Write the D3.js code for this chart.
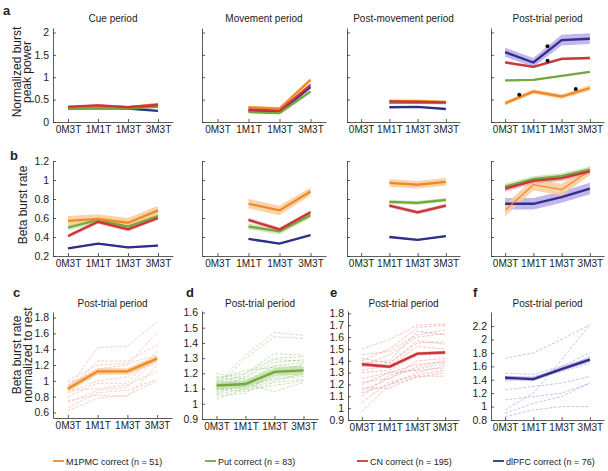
<!DOCTYPE html>
<html>
<head>
<meta charset="utf-8">
<script src="https://cdn.jsdelivr.net/npm/d3@7"></script>
<style>
  body { margin: 0; background: #fff; }
  svg { display: block; font-family: "Liberation Sans", Arial, sans-serif; }
</style>
</head>
<body>
<script>
// conditions and recording areas
const conditions = ["0M3T", "1M1T", "1M3T", "3M3T"];
const areas = ["M1PMC", "Put", "CN", "dlPFC"];
const areaCounts = [51, 83, 195, 76];
const periods = ["Cue period", "Movement period", "Post-movement period", "Post-trial period"];

// panel a: normalized burst peak power [period][area]
const peakPower = [
  [[0.33, 0.36, 0.33, 0.40], [0.30, 0.31, 0.30, 0.34], [0.34, 0.37, 0.33, 0.38], [0.30, 0.31, 0.30, 0.25]],
  [[null, 0.33, 0.30, 0.94], [null, 0.22, 0.20, 0.68], [null, 0.28, 0.25, 0.83], [null, 0.25, 0.22, 0.78]],
  [[null, 0.47, 0.47, 0.45], [null, 0.43, 0.43, 0.42], [null, 0.46, 0.45, 0.44], [null, 0.33, 0.34, 0.29]],
  [[0.42, 0.68, 0.57, 0.76], [0.93, 0.94, 1.03, 1.12], [1.33, 1.23, 1.41, 1.43], [1.56, 1.33, 1.83, 1.86]]
];
const peakPowerErr = [
  [[0.03, 0.03, 0.03, 0.03], [0.02, 0.02, 0.02, 0.02], [0.03, 0.03, 0.03, 0.03], [0.015, 0.015, 0.015, 0.015]],
  [[0, 0.03, 0.03, 0.04], [0, 0.02, 0.02, 0.03], [0, 0.03, 0.03, 0.03], [0, 0.02, 0.02, 0.02]],
  [[0, 0.02, 0.02, 0.02], [0, 0.02, 0.02, 0.02], [0, 0.02, 0.02, 0.02], [0, 0.015, 0.015, 0.015]],
  [[0.05, 0.05, 0.05, 0.06], [0.02, 0.02, 0.02, 0.02], [0.03, 0.03, 0.03, 0.03], [0.10, 0.10, 0.12, 0.12]]
];
// significance markers in the post-trial period
const sigPos = [1.5, 1.5, 0.5, 2.5];
const sigVal = [1.69, 1.37, 0.61, 0.74];

// panel b: beta burst rate [period][area]
const burstRate = [
  [[0.57, 0.59, 0.55, 0.68], [0.50, 0.58, 0.51, 0.62], [0.41, 0.56, 0.48, 0.60], [0.28, 0.33, 0.29, 0.31]],
  [[null, 0.75, 0.68, 0.88], [null, 0.51, 0.46, 0.63], [null, 0.58, 0.48, 0.66], [null, 0.38, 0.33, 0.42]],
  [[null, 0.97, 0.95, 0.98], [null, 0.77, 0.76, 0.79], [null, 0.73, 0.66, 0.73], [null, 0.40, 0.37, 0.41]],
  [[0.68, 0.95, 0.90, 1.10], [0.93, 1.01, 1.04, 1.11], [0.91, 0.99, 1.02, 1.09], [0.75, 0.75, 0.82, 0.91]]
];
const burstRateErr = [
  [[0.05, 0.05, 0.05, 0.05], [0.03, 0.03, 0.03, 0.03], [0.02, 0.02, 0.02, 0.02], [0.01, 0.01, 0.01, 0.01]],
  [[0, 0.05, 0.05, 0.04], [0, 0.03, 0.03, 0.03], [0, 0.02, 0.02, 0.02], [0, 0.01, 0.01, 0.01]],
  [[0, 0.04, 0.04, 0.04], [0, 0.02, 0.02, 0.02], [0, 0.02, 0.02, 0.02], [0, 0.01, 0.01, 0.01]],
  [[0.06, 0.06, 0.06, 0.05], [0.03, 0.03, 0.03, 0.03], [0.03, 0.03, 0.03, 0.03], [0.06, 0.06, 0.06, 0.06]]
];

// panels c-f: post-trial burst rate normalized to rest, mean and single units
const normMean = [
  [0.90, 1.12, 1.12, 1.28], [1.12, 1.13, 1.21, 1.22], [1.37, 1.35, 1.46, 1.47], [1.43, 1.41, 1.56, 1.70]
];
const normErr = [0.04, 0.025, 0.015, 0.03];
const normUnits = [
  [[0.90, 1.42, 1.44, 1.75], [0.88, 1.25, 1.25, 1.45], [0.95, 1.15, 1.20, 1.62], [0.62, 0.78, 0.82, 1.00],
   [0.66, 0.85, 0.88, 1.02], [0.72, 0.88, 0.92, 1.30], [0.80, 0.97, 0.97, 1.38], [0.85, 1.00, 1.05, 1.28],
   [0.98, 1.08, 1.10, 1.22], [0.75, 0.82, 0.80, 1.20], [1.00, 1.20, 1.22, 1.32], [0.88, 0.90, 0.95, 1.12]],
  [[1.13, 1.32, 1.47, 1.45], [1.10, 1.30, 1.44, 1.43], [1.12, 1.20, 1.33, 1.32], [1.15, 1.18, 1.29, 1.28],
   [1.08, 1.15, 1.25, 1.27], [1.06, 1.10, 1.18, 1.20], [1.10, 1.12, 1.16, 1.18], [1.14, 1.09, 1.12, 1.15],
   [1.03, 1.10, 1.15, 1.20], [1.18, 1.14, 1.22, 1.24], [1.20, 1.16, 1.19, 1.22], [1.09, 1.13, 1.08, 1.14],
   [1.16, 1.22, 1.24, 1.23], [1.05, 1.07, 1.21, 1.26], [1.11, 1.12, 1.20, 1.21], [1.13, 1.15, 1.23, 1.25],
   [1.09, 1.11, 1.17, 1.19], [1.15, 1.14, 1.25, 1.24], [1.12, 1.17, 1.27, 1.29], [1.10, 1.08, 1.14, 1.16],
   [1.17, 1.20, 1.30, 1.31], [1.07, 1.12, 1.22, 1.22]],
  [[1.50, 1.58, 1.70, 1.71], [1.40, 1.50, 1.68, 1.70], [1.38, 1.40, 1.65, 1.62], [1.36, 1.45, 1.60, 1.63],
   [1.35, 1.38, 1.55, 1.56], [1.32, 1.36, 1.52, 1.50], [1.17, 1.17, 1.27, 1.27], [0.97, 1.20, 1.30, 1.36],
   [1.10, 1.28, 1.33, 1.38], [1.15, 1.25, 1.35, 1.40], [1.20, 1.30, 1.32, 1.34], [1.05, 1.22, 1.28, 1.32],
   [1.25, 1.30, 1.37, 1.39], [1.42, 1.38, 1.57, 1.54], [1.45, 1.48, 1.62, 1.66], [1.30, 1.32, 1.45, 1.47],
   [1.22, 1.25, 1.40, 1.42], [1.13, 1.20, 1.26, 1.30]],
  [[1.72, 1.80, 2.00, 2.22], [0.95, 1.20, 1.70, 2.22], [1.25, 1.30, 1.35, 1.45], [0.90, 1.05, 1.15, 1.35],
   [1.10, 1.15, 1.20, 1.35], [1.40, 1.40, 1.60, 1.80], [1.38, 1.45, 1.55, 1.75], [1.45, 1.42, 1.52, 1.65],
   [0.85, 0.95, 1.00, 1.00], [1.50, 1.48, 1.60, 1.72]]
];

// tick values
const ticksA = [0, 0.5, 1, 1.5, 2];
const ticksB = [0.2, 0.4, 0.6, 0.8, 1, 1.2];
const ticksNorm = [
  [0.6, 0.8, 1, 1.2, 1.4, 1.6, 1.8],
  [0.9, 1, 1.1, 1.2, 1.3, 1.4, 1.5, 1.6],
  [0.9, 1, 1.1, 1.2, 1.3, 1.4, 1.5, 1.6, 1.7, 1.8],
  [0.8, 1, 1.2, 1.4, 1.6, 1.8, 2, 2.2]
];
const domainNorm = [[0.53, 1.87], [0.9, 1.61], [0.9, 1.82], [0.8, 2.41]];

const colors = ["#f08a24", "#74a83e", "#c8363b", "#2e2f88"];
const bands = ["#f9cb9c", "#c4e0aa", "#f0a6a6", "#b9a8ea"];
const thin = ["#f0a088", "#98c67a", "#ec8a8a", "#8e8ede"];
const drawOrder = [3, 1, 0, 2];

const width = 608, height = 471;
const colX = [[53, 173], [202, 326], [347, 460], [491, 604]];
const colXNorm = [[53, 172], [202, 318], [348, 459], [491, 604]];
const fmt = d3.format("~g");

const svg = d3.select("body").append("svg")
  .attr("width", width)
  .attr("height", height);

function axes(x0, x1, y, ticks, showY) {
  const x = d3.scaleLinear([-0.5, 3.5], [x0, x1]);
  const g = svg.append("g");
  g.append("g")
    .attr("transform", `translate(0,${y.range()[0]})`)
    .call(d3.axisBottom(x).tickValues([0, 1, 2, 3]).tickFormat(i => conditions[i])
      .tickSize(-3).tickSizeOuter(0).tickPadding(4))
    .attr("font-family", null).attr("font-size", 10);
  g.append("g")
    .attr("transform", `translate(${x0},0)`)
    .call(d3.axisLeft(y).tickValues(ticks).tickFormat(showY ? fmt : () => "")
      .tickSize(-3).tickSizeOuter(0).tickPadding(4))
    .attr("font-family", null).attr("font-size", 10.5);
  g.selectAll(".domain, .tick line").attr("stroke", "#333").attr("stroke-width", 0.8);
  g.selectAll("text").attr("fill", "#222");
  return x;
}

function series(x, y, vals, err, color, band, w, dash) {
  const pts = vals.map((v, k) => ({ k, v, e: err ? err[k] : 0 }));
  const area = d3.area().defined(d => d.v != null)
    .x(d => x(d.k)).y0(d => y(d.v - d.e)).y1(d => y(d.v + d.e));
  const line = d3.line().defined(d => d.v != null)
    .x(d => x(d.k)).y(d => y(d.v));
  if (band) {
    svg.append("path").datum(pts).attr("d", area).attr("fill", band).attr("opacity", 0.85);
    return;
  }
  svg.append("path").datum(pts).attr("d", line)
    .attr("fill", "none").attr("stroke", color).attr("stroke-width", w)
    .attr("stroke-dasharray", dash || null)
    .attr("opacity", dash ? 0.65 : 1);
}

function label(txt, x, y, opts = {}) {
  const t = svg.append("text").text(txt)
    .attr("x", x).attr("y", y)
    .attr("font-size", opts.size || 10)
    .attr("text-anchor", opts.anchor || "middle")
    .attr("font-weight", opts.bold ? "bold" : null)
    .attr("fill", "#222");
  if (opts.rotate) t.attr("transform", `rotate(-90,${x},${y})`);
  return t;
}

// row a
const yA = d3.scaleLinear([0, 2.1], [122, 28]);
periods.forEach((p, pi) => {
  const x = axes(colX[pi][0], colX[pi][1], yA, ticksA, pi === 0);
  drawOrder.forEach(ai => series(x, yA, peakPower[pi][ai], peakPowerErr[pi][ai], colors[ai], bands[ai]));
  drawOrder.forEach(ai => series(x, yA, peakPower[pi][ai], null, colors[ai], null, 2.3));
  label(p, (colX[pi][0] + colX[pi][1]) / 2, 22);
  if (pi === 3) {
    svg.selectAll(null).data(sigPos).enter().append("circle")
      .attr("cx", d => x(d)).attr("cy", (d, i) => yA(sigVal[i]))
      .attr("r", 2).attr("fill", "#111");
  }
});
label("Normalized burst", 20.5, 72, { size: 12, rotate: true });
label("peak power", 31, 72, { size: 12, rotate: true });
label("a", 3, 15, { size: 13, bold: true, anchor: "start" });

// row b
const yB = d3.scaleLinear([0.2, 1.2], [256, 161]);
periods.forEach((p, pi) => {
  const x = axes(colX[pi][0], colX[pi][1], yB, ticksB, pi === 0);
  drawOrder.forEach(ai => series(x, yB, burstRate[pi][ai], burstRateErr[pi][ai], colors[ai], bands[ai]));
  drawOrder.forEach(ai => series(x, yB, burstRate[pi][ai], null, colors[ai], null,
    pi === 3 && ai === 0 ? 1.2 : 2.3));
});
label("Beta burst rate", 27, 205, { size: 12, rotate: true });
label("b", 10, 160, { size: 13, bold: true, anchor: "start" });

// rows c-f
const letters = ["c", "d", "e", "f"];
const letterX = [13, 186, 330, 473];
const rangeNorm = [[418, 312], [419, 311], [420, 311], [420, 312]];
areas.forEach((a, ai) => {
  const y = d3.scaleLinear(domainNorm[ai], rangeNorm[ai]);
  const x = axes(colXNorm[ai][0], colXNorm[ai][1], y, ticksNorm[ai], true);
  normUnits[ai].forEach(u => series(x, y, u, null, thin[ai], null, 0.8, "3,1.5"));
  series(x, y, normMean[ai], normMean[ai].map(() => normErr[ai]), colors[ai], bands[ai]);
  series(x, y, normMean[ai], null, colors[ai], null, 2.4);
  label("Post-trial period", (colXNorm[ai][0] + colXNorm[ai][1]) / 2, 307);
  label(letters[ai], letterX[ai], 297, { size: 13, bold: true, anchor: "start" });
});
label("Beta burst rate", 21, 355, { size: 12, rotate: true });
label("normalized to rest", 31.5, 355, { size: 12, rotate: true });

// legend
const legendX = [53, 205, 357, 493];
areas.forEach((a, ai) => {
  svg.append("line")
    .attr("x1", legendX[ai]).attr("x2", legendX[ai] + 11)
    .attr("y1", 461).attr("y2", 461)
    .attr("stroke", colors[ai]).attr("stroke-width", 1.8);
  label(`${a} correct (n = ${areaCounts[ai]})`, legendX[ai] + 13, 464.5, { size: 9, anchor: "start" });
});
</script>
</body>
</html>
